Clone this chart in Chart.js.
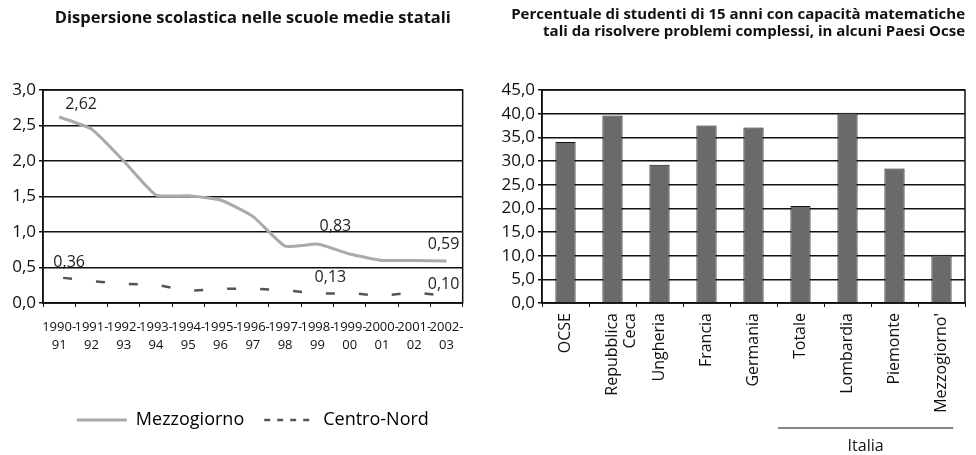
<!DOCTYPE html>
<html><head><meta charset="utf-8">
<script src="https://cdn.jsdelivr.net/npm/chart.js@4/dist/chart.umd.min.js"></script>
<style>
html,body{margin:0;padding:0;background:#fff;width:976px;height:455px;overflow:hidden}
#c1{position:absolute;left:0;top:0}
#c2{position:absolute;left:478px;top:0}
</style></head><body>
<canvas id="c1" width="476" height="455"></canvas>
<canvas id="c2" width="498" height="455"></canvas>
<script>
// ---- data ----
const lineTitle = 'Dispersione scolastica nelle scuole medie statali';
const barTitle = ['Percentuale di studenti di 15 anni con capacità matematiche', 'tali da risolvere problemi complessi, in alcuni Paesi Ocse'];
const years = [['1990-','91'],['1991-','92'],['1992-','93'],['1993-','94'],['1994-','95'],['1995-','96'],['1996-','97'],['1997-','98'],['1998-','99'],['1999-','00'],['2000-','01'],['2001-','02'],['2002-','03']];
const mezzogiorno = [2.62, 2.45, 2.00, 1.52, 1.51, 1.45, 1.22, 0.80, 0.83, 0.69, 0.60, 0.60, 0.59];
const centroNord = [0.36, 0.31, 0.27, 0.26, 0.17, 0.20, 0.20, 0.18, 0.13, 0.14, 0.10, 0.15, 0.10];
const seriesNames = ['Mezzogiorno', 'Centro-Nord'];
const labelledPoints = [0, 8, 12];
const countries = ['OCSE', ['Repubblica','Ceca'], 'Ungheria', 'Francia', 'Germania', 'Totale', 'Lombardia', 'Piemonte', "Mezzogiorno'"];
const shares = [34.0, 39.6, 29.2, 37.5, 37.1, 20.5, 40.2, 28.4, 10.2];
const groupLabel = 'Italia';
const groupFirst = 5, groupLast = 8;

const FONT = "'Open Sans', 'DejaVu Sans', sans-serif";
const comma = (v, d) => Number(v).toFixed(d).replace('.', ',');

// frame around plot area
const frame = {
  id: 'frame',
  beforeDatasetsDraw(chart) {
    const a = chart.chartArea, ctx = chart.ctx;
    ctx.save();
    ctx.strokeStyle = '#111';
    ctx.lineWidth = 1.5;
    ctx.strokeRect(a.left, a.top, a.right - a.left, a.bottom - a.top);
    ctx.restore();
  }
};

// value labels on the line chart
const lineOffsets = [[[22, -13], [18, -18], [-3, -17]], [[10, -15], [13, -16], [-3, -11]]];
const valueLabels = {
  id: 'valueLabels',
  afterDatasetsDraw(chart) {
    const ctx = chart.ctx;
    ctx.save();
    ctx.font = "16px " + FONT;
    ctx.fillStyle = '#222';
    ctx.textAlign = 'center';
    ctx.textBaseline = 'middle';
    chart.data.datasets.forEach((ds, d) => {
      const meta = chart.getDatasetMeta(d);
      labelledPoints.forEach((i, k) => {
        const p = meta.data[i];
        const o = lineOffsets[d][k];
        ctx.fillText(comma(ds.data[i], 2), p.x + o[0], p.y + o[1]);
      });
    });
    ctx.restore();
  }
};

new Chart(document.getElementById('c1'), {
  type: 'line',
  data: {
    labels: years,
    datasets: [
      { label: seriesNames[0], data: mezzogiorno, borderColor: '#aaaaaa', borderWidth: 3, pointRadius: 0, tension: 0.15, fill: false },
      { label: seriesNames[1], data: centroNord, borderColor: '#555', borderWidth: 2.5, borderDash: [9, 24], borderDashOffset: -4, pointRadius: 0, tension: 0, fill: false }
    ]
  },
  options: {
    responsive: false,
    animation: false,
    devicePixelRatio: 1,
    layout: { padding: { left: 0, right: 4, top: 0, bottom: 16 } },
    plugins: {
      title: { display: true, fullSize: false, text: lineTitle, color: '#111', font: { family: FONT, size: 16.5, weight: 'bold', lineHeight: 1.2 }, padding: { top: 8, bottom: 62.2 } },
      legend: {
        position: 'bottom',
        fullSize: false,
        labels: {
          color: '#111', font: { family: FONT, size: 18 }, usePointStyle: true, pointStyle: 'line',
          boxWidth: 50, pointStyleWidth: 50, padding: 20,
          generateLabels(chart) {
            return chart.data.datasets.map((ds, i) => ({
              text: ds.label, strokeStyle: ds.borderColor, fillStyle: ds.borderColor,
              lineWidth: i === 0 ? 3 : 2.5, lineDash: i === 0 ? [] : [6, 7], pointStyle: 'line', datasetIndex: i, hidden: false
            }));
          }
        }
      },
      tooltip: { enabled: false }
    },
    scales: {
      x: {
        offset: true,
        grid: { drawOnChartArea: false, drawTicks: true, tickLength: 4, color: '#111', offset: true },
        border: { color: '#111', width: 1.5 },
        ticks: { color: '#111', font: { family: FONT, size: 13, lineHeight: 1.35 }, maxRotation: 0, minRotation: 0, autoSkip: false, padding: 12 },
        afterFit(s) { s.height = 88; }
      },
      y: {
        min: 0, max: 3,
        grid: { color: '#111', lineWidth: 1.5, tickLength: 4 },
        border: { color: '#111', width: 1.5 },
        ticks: { stepSize: 0.5, color: '#111', font: { family: FONT, size: 17 }, padding: 3, callback: v => comma(v, 1) },
        afterFit(s) { s.width = 43; }
      }
    }
  },
  plugins: [frame, valueLabels]
});

// group bracket "Italia"
const groupMark = {
  id: 'groupMark',
  afterDraw(chart) {
    const x = chart.scales.x, ctx = chart.ctx;
    const cw = x.width / countries.length;
    const left = x.getPixelForValue(groupFirst) - cw / 2 + 1;
    const right = x.getPixelForValue(groupLast) + cw * 0.25;
    ctx.save();
    ctx.strokeStyle = '#111';
    ctx.lineWidth = 1.2;
    ctx.beginPath();
    ctx.moveTo(left, 428);
    ctx.lineTo(right, 428);
    ctx.stroke();
    ctx.font = "16px " + FONT;
    ctx.fillStyle = '#111';
    ctx.textAlign = 'center';
    ctx.textBaseline = 'middle';
    ctx.fillText(groupLabel, (left + right) / 2, 446);
    ctx.restore();
  }
};

new Chart(document.getElementById('c2'), {
  type: 'bar',
  data: {
    labels: countries,
    datasets: [{ data: shares, backgroundColor: '#6a6a6a', borderColor: '#111', borderWidth: 1, categoryPercentage: 1, barPercentage: 0.43 }]
  },
  options: {
    responsive: false,
    animation: false,
    devicePixelRatio: 1,
    layout: { padding: { left: 0, right: 11, top: 0, bottom: 0 } },
    plugins: {
      title: { display: true, align: 'end', text: barTitle, color: '#111', font: { family: FONT, size: 15, weight: 'bold', lineHeight: 1.15 }, padding: { top: 6, bottom: 49.5 } },
      legend: { display: false },
      tooltip: { enabled: false }
    },
    scales: {
      x: {
        grid: { drawOnChartArea: false, drawTicks: true, tickLength: 4, color: '#111', offset: true },
        border: { color: '#111', width: 1.5 },
        ticks: { color: '#111', font: { family: FONT, size: 16, lineHeight: 1.15 }, maxRotation: 90, minRotation: 90, autoSkip: false, padding: 6 },
        afterFit(s) { s.height = 152; }
      },
      y: {
        min: 0, max: 45,
        grid: { color: '#111', lineWidth: 1.5, tickLength: 4 },
        border: { color: '#111', width: 1.5 },
        ticks: { stepSize: 5, color: '#111', font: { family: FONT, size: 17 }, padding: 3, callback: v => comma(v, 1) },
        afterFit(s) { s.width = 64; }
      }
    }
  },
  plugins: [frame, groupMark]
});
</script>
</body></html>
